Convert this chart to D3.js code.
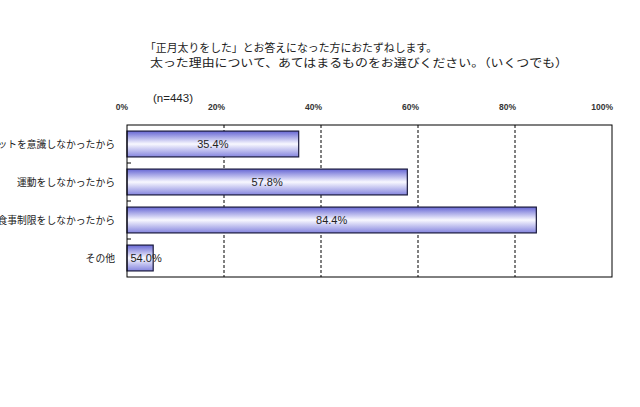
<!DOCTYPE html>
<html lang="ja">
<head>
<meta charset="UTF-8">
<title>正月太りの理由</title>
<script src="https://d3js.org/d3.v7.min.js"></script>
<style>
  body { margin: 0; background: #fff; }
  svg { display: block; }
</style>
</head>
<body>
<svg id="chart" width="640" height="407"></svg>
<script>
const titleLines = [
  "「正月太りをした」とお答えになった方におたずねします。",
  "太った理由について、あてはまるものをお選びください。（いくつでも）"
];
const sampleNote = "(n=443)";
const categories = ["ダイエットを意識しなかったから", "運動をしなかったから", "食事制限をしなかったから", "その他"];
const values = [35.4, 57.8, 84.4, 5.4];
const valueLabels = ["35.4%", "57.8%", "84.4%", "54.0%"];
const ticks = [0, 20, 40, 60, 80, 100];

const svg = d3.select("#chart");
const plot = { left: 127, right: 612, top: 125, bottom: 277 };
const jp = "'Noto Sans CJK JP', 'Noto Sans', sans-serif";

const x = d3.scaleLinear().domain([0, 100]).range([plot.left, plot.right]);
const y = d3.scaleBand().domain(categories).range([plot.top, plot.bottom])
    .paddingInner(0.32).paddingOuter(0.16);

// bar gradient (light in the middle, blue at the edges)
const grad = svg.append("defs").append("linearGradient")
    .attr("id", "barGrad").attr("x1", 0).attr("y1", 0).attr("x2", 0).attr("y2", 1);
grad.append("stop").attr("offset", "0%").attr("stop-color", "#6666d4");
grad.append("stop").attr("offset", "50%").attr("stop-color", "#f8f8ff");
grad.append("stop").attr("offset", "100%").attr("stop-color", "#8484de");

// title
const titleX = [145, 150];
const titleLens = [292, 418];
titleLines.forEach((t, i) => {
  svg.append("text")
      .attr("x", titleX[i]).attr("y", 52 + i * 14.5)
      .attr("textLength", titleLens[i]).attr("lengthAdjust", "spacingAndGlyphs")
      .style("font-family", jp).style("font-size", "11.5px").style("fill", "#222")
      .text(t);
});
svg.append("text")
    .attr("x", 153).attr("y", 102)
    .style("font-family", "'Liberation Sans', Arial, sans-serif").style("font-size", "11.5px").style("fill", "#222")
    .text(sampleNote);

// tick labels on top
svg.append("g").selectAll("text").data(ticks).join("text")
    .attr("x", d => x(d) + 1).attr("y", 110)
    .attr("text-anchor", "end")
    .style("font-family", "'Liberation Sans', Arial, sans-serif")
    .style("font-size", "8.5px").style("font-weight", "bold").style("fill", "#333")
    .text(d => d + "%");

// dashed gridlines
svg.append("g").selectAll("line").data(ticks.slice(1, -1)).join("line")
    .attr("x1", d => x(d)).attr("x2", d => x(d))
    .attr("y1", plot.top).attr("y2", plot.bottom)
    .attr("stroke", "#000").attr("stroke-width", 1).attr("stroke-dasharray", "3,2");

// category tick marks
svg.append("g").selectAll("line").data(categories.slice(1)).join("line")
    .attr("x1", plot.left).attr("x2", plot.left + 4)
    .attr("y1", d => y(d) - y.step() * y.paddingInner() / 2)
    .attr("y2", d => y(d) - y.step() * y.paddingInner() / 2)
    .attr("stroke", "#000");

// bars
svg.append("g").selectAll("rect").data(categories).join("rect")
    .attr("x", x(0))
    .attr("y", d => y(d))
    .attr("width", (d, i) => x(values[i]) - x(0))
    .attr("height", y.bandwidth())
    .attr("fill", "url(#barGrad)")
    .attr("stroke", "#1a1a3c").attr("stroke-width", 1.2);

// value labels
svg.append("g").selectAll("text").data(categories).join("text")
    .attr("x", (d, i) => (x(0) + x(values[i])) / 2 + (values[i] < 10 ? 6 : 0))
    .attr("y", d => y(d) + y.bandwidth() / 2 + 4)
    .attr("text-anchor", "middle")
    .style("font-family", "'Liberation Sans', Arial, sans-serif").style("font-size", "11px").style("fill", "#222")
    .text((d, i) => valueLabels[i]);

// category labels (the long ones run off the left edge, as in the source image)
svg.append("g").selectAll("text").data(categories).join("text")
    .attr("x", 115)
    .attr("y", d => y(d) + y.bandwidth() / 2 + 4)
    .attr("text-anchor", "end")
    .style("font-family", jp).style("font-size", "9.8px").style("fill", "#222")
    .text(d => d);

// plot frame
svg.append("rect")
    .attr("x", plot.left).attr("y", plot.top)
    .attr("width", plot.right - plot.left).attr("height", plot.bottom - plot.top)
    .attr("fill", "none").attr("stroke", "#000").attr("stroke-width", 1);
</script>
</body>
</html>
